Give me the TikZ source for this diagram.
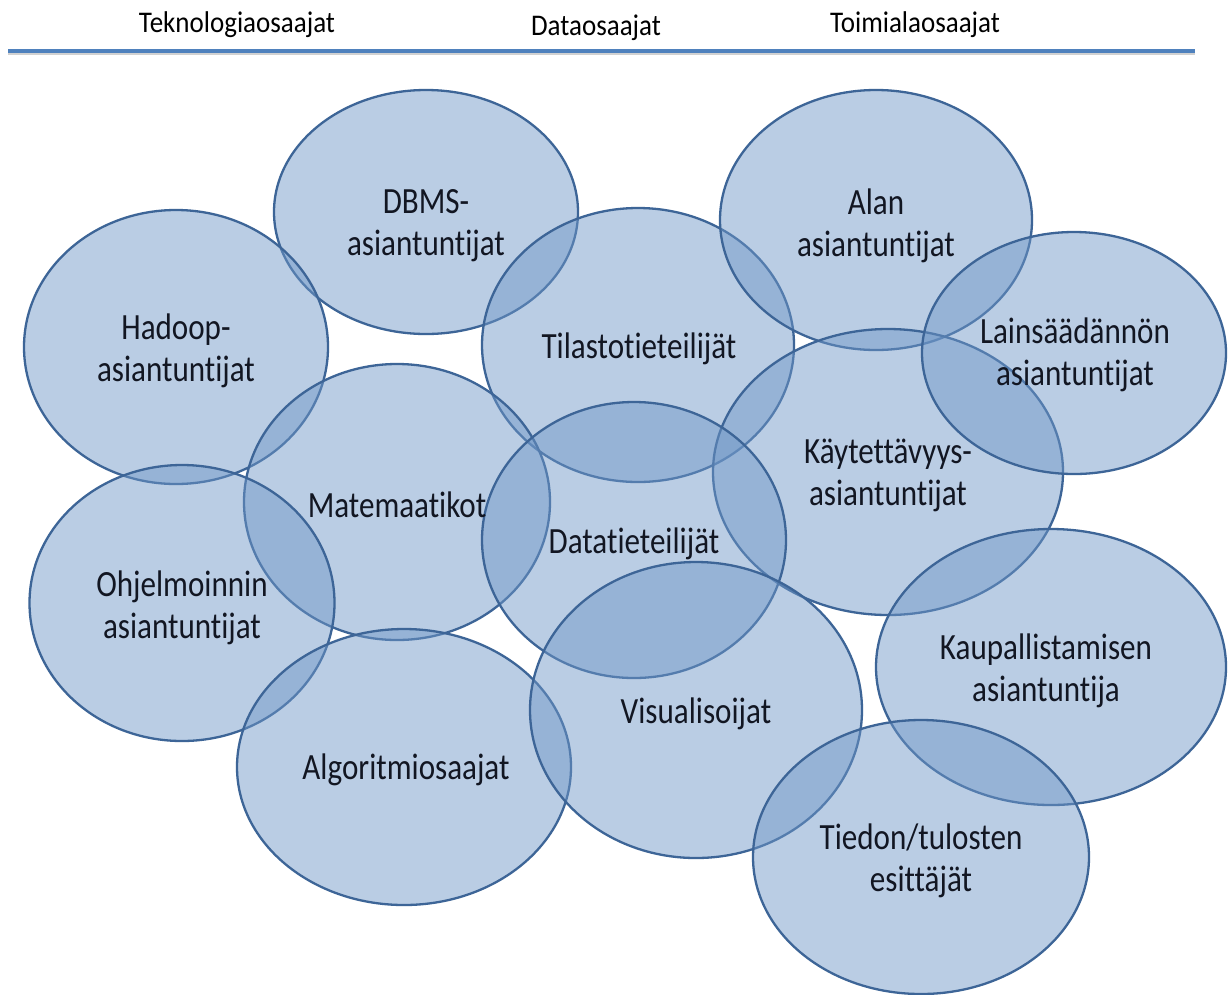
\documentclass[tikz,border=0pt]{standalone}
\usepackage{graphicx}
\usepackage{fontspec}
\setmainfont{Carlito}[Ligatures=NoCommon]
\usetikzlibrary{shapes.geometric}
\definecolor{bubblefill}{RGB}{111,151,199}
\definecolor{bubbleline}{RGB}{61,101,151}
\definecolor{headline}{RGB}{79,129,189}
\definecolor{textcol}{RGB}{18,22,34}
% narrow, tall lettering for the bubble and header texts
\newcommand{\sqz}[1]{\scalebox{0.84}[1]{#1}}
\newcommand{\hsqz}[1]{\scalebox{0.9}[1]{#1}}
\tikzset{
  bubble/.style={ellipse, draw=bubbleline, line width=2.3pt,
    fill=bubblefill, fill opacity=0.48, draw opacity=1, inner sep=0pt},
  lbl/.style={font=\fontsize{37}{42}\selectfont, text=textcol, align=center, inner sep=0pt},
  head/.style={font=\fontsize{30}{34}\selectfont, text=black, inner sep=0pt, anchor=base}
}
\begin{document}
\begin{tikzpicture}[x=1pt,y=-1pt]
\useasboundingbox (0,0) rectangle (1228,994);
\fill[white] (0,0) rectangle (1228,994);

% header
\node[head] (h1) at (237,32) {\hsqz{Teknologiaosaajat}};
\node[head] (h2) at (596,35) {\hsqz{Dataosaajat}};
\node[head] (h3) at (915,32) {\hsqz{Toimialaosaajat}};
\draw[black!18, line width=2pt] (8,54) -- (1195,54);
\draw[headline, line width=3.5pt] (8,51) -- (1195,51);

% bubbles
\node[bubble, minimum width=304pt, minimum height=244pt] (dbms) at (426,212) {};
\node[bubble, minimum width=304pt, minimum height=274pt] (hadoop) at (176,347) {};
\node[bubble, minimum width=312pt, minimum height=274pt] (tilasto) at (638,345) {};
\node[bubble, minimum width=312pt, minimum height=260pt] (alan) at (876,220) {};
\node[bubble, minimum width=350pt, minimum height=286pt] (kaytto) at (888,472) {};
\node[bubble, minimum width=304pt, minimum height=242pt] (laki) at (1074,353) {};
\node[bubble, minimum width=306pt, minimum height=276pt] (mate) at (397,502) {};
\node[bubble, minimum width=304pt, minimum height=276pt] (data) at (634,540) {};
\node[bubble, minimum width=305pt, minimum height=276pt] (ohjel) at (182,603) {};
\node[bubble, minimum width=334pt, minimum height=276pt] (algo) at (404,767) {};
\node[bubble, minimum width=332pt, minimum height=296pt] (visu) at (696,710) {};
\node[bubble, minimum width=350pt, minimum height=276pt] (kaup) at (1051,667) {};
\node[bubble, minimum width=336pt, minimum height=274pt] (tiedon) at (921,857) {};

% labels
\node[lbl] (tdbms) at (426,226) {\sqz{DBMS-}\\\sqz{asiantuntijat}};
\node[lbl] (thadoop) at (176,351) {\sqz{Hadoop-}\\\sqz{asiantuntijat}};
\node[lbl] (ttilasto) at (639,349) {\sqz{Tilastotieteilijät}};
\node[lbl] (talan) at (876,226) {\sqz{Alan}\\\sqz{asiantuntijat}};
\node[lbl] (tlaki) at (1075,355) {\sqz{Lainsäädännön}\\\sqz{asiantuntijat}};
\node[lbl] (tmate) at (397,505) {\sqz{Matemaatikot}};
\node[lbl] (tdata) at (634,544) {\sqz{Datatieteilijät}};
\node[lbl] (tkaytto) at (888,475) {\sqz{Käytettävyys-}\\\sqz{asiantuntijat}};
\node[lbl] (tohjel) at (182,608) {\sqz{Ohjelmoinnin}\\\sqz{asiantuntijat}};
\node[lbl] (talgo) at (406,770) {\sqz{Algoritmiosaajat}};
\node[lbl] (tvisu) at (696,714) {\sqz{Visualisoijat}};
\node[lbl] (tkaup) at (1046,671) {\sqz{Kaupallistamisen}\\\sqz{asiantuntija}};
\node[lbl] (ttiedon) at (921,861) {\sqz{Tiedon/tulosten}\\\sqz{esittäjät}};
\end{tikzpicture}
\end{document}
